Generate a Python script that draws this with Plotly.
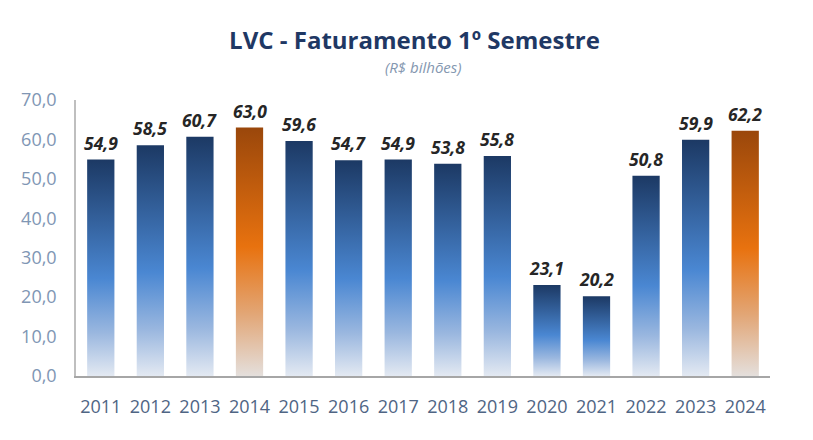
import plotly.graph_objects as go

# LVC - faturamento do 1º semestre (R$ bilhões)
anos = ['2011', '2012', '2013', '2014', '2015', '2016', '2017',
        '2018', '2019', '2020', '2021', '2022', '2023', '2024']
faturamento = [54.9, 58.5, 60.7, 63.0, 59.6, 54.7, 54.9,
               53.8, 55.8, 23.1, 20.2, 50.8, 59.9, 62.2]
destaque = ['2014', '2024']

azul = [[0, '#e3e9f2'], [0.2, '#9ab7df'], [0.45, '#4a87d2'], [1, '#1c3964']]
laranja = [[0, '#e4dfdc'], [0.25, '#e2a676'], [0.52, '#e8720f'], [1, '#9a470b']]

largura = 0.55

fig = go.Figure()

# Barras com degradê vertical (scatter preenchido, uma por ano)
for i, (ano, v) in enumerate(zip(anos, faturamento)):
    x0, x1 = i - largura / 2, i + largura / 2
    fig.add_trace(go.Scatter(
        x=[x0, x1, x1, x0, x0],
        y=[0, 0, v, v, 0],
        mode='lines',
        fill='toself',
        fillgradient=dict(type='vertical',
                          colorscale=laranja if ano in destaque else azul),
        line=dict(width=0),
        hoverinfo='skip',
        showlegend=False,
    ))

# Rótulos de valor
for i, v in enumerate(faturamento):
    fig.add_annotation(
        x=i, y=v, text=f'{v:.1f}'.replace('.', ','),
        showarrow=False, yanchor='middle', yshift=17,
        font=dict(family='Open Sans', size=17.5, color='#262626',
                  weight='bold', style='italic'),
    )

# Subtítulo
fig.add_annotation(
    x=0.5, xref='paper', y=1.12, yref='paper',
    text='<i>(R$ bilhões)</i>', showarrow=False, yanchor='middle',
    font=dict(family='Open Sans', size=15, color='#8497b0'),
)

fig.update_layout(
    width=813, height=440,
    margin=dict(l=68, r=51, t=92, b=72),
    plot_bgcolor='white',
    paper_bgcolor='white',
    separators=',.',
    title=dict(
        text='LVC - Faturamento 1º Semestre',
        x=0.5, xanchor='center', y=0.925, yanchor='middle',
        font=dict(family='Open Sans', size=24, color='#1f3864', weight='bold'),
    ),
)

fig.update_xaxes(
    range=[-0.5, len(anos) - 0.5],
    tickvals=list(range(len(anos))),
    ticktext=anos,
    showgrid=False, zeroline=False, automargin=False,
    showline=True, linecolor='#a6a6a6', linewidth=2,
    ticks='', ticklabelstandoff=13,
    tickfont=dict(family='Open Sans', size=18, color='#4f6584'),
)

fig.update_yaxes(
    range=[0, 70],
    tickvals=[0, 10, 20, 30, 40, 50, 60, 70],
    tickformat='.1f',
    showgrid=False, zeroline=False, automargin=False,
    showline=True, linecolor='#bfbfbf', linewidth=1.5,
    ticks='', ticklabelstandoff=14,
    tickfont=dict(family='Open Sans', size=18, color='#8096b4'),
)

fig.write_html('out.html')
